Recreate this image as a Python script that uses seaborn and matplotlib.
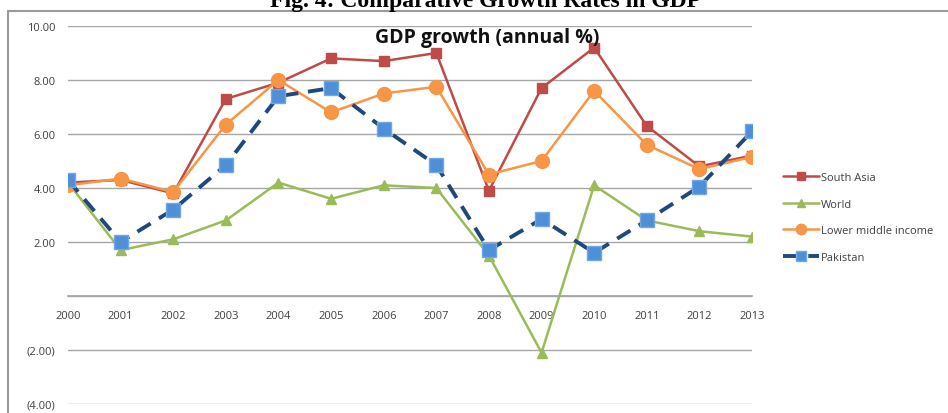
import pandas as pd
import seaborn as sns
import matplotlib.pyplot as plt
from matplotlib.patches import Rectangle
from matplotlib.ticker import FixedLocator, FuncFormatter

years = [2000, 2001, 2002, 2003, 2004, 2005, 2006, 2007, 2008, 2009, 2010, 2011, 2012, 2013]
south_asia = [4.2, 4.3, 3.8, 7.3, 7.9, 8.8, 8.7, 9.0, 3.9, 7.7, 9.2, 6.3, 4.8, 5.2]
world = [4.2, 1.7, 2.1, 2.8, 4.2, 3.6, 4.1, 4.0, 1.5, -2.1, 4.1, 2.8, 2.4, 2.2]
lower_middle = [4.1, 4.35, 3.85, 6.35, 8.0, 6.8, 7.5, 7.75, 4.5, 5.0, 7.6, 5.6, 4.7, 5.15]
pakistan = [4.3, 2.0, 3.2, 4.85, 7.4, 7.7, 6.2, 4.85, 1.7, 2.85, 1.6, 2.8, 4.05, 6.1]
series_names = ['South Asia', 'World', 'Lower middle income', 'Pakistan']

df = pd.DataFrame({'Year': years, 'South Asia': south_asia, 'World': world,
                   'Lower middle income': lower_middle, 'Pakistan': pakistan})
long_df = df.melt(id_vars='Year', var_name='Series', value_name='Growth')

sns.set_theme(style='white')
plt.rcParams['font.family'] = ['Open Sans', 'DejaVu Sans']

fig = plt.figure(figsize=(9.48, 4.14), dpi=100)
ax = fig.add_axes([68 / 948, 1 - 405 / 414, 684 / 948, 378 / 414])

styles = {
    'South Asia': dict(color='#be4b48', marker='s', markersize=7, lw=1.8, ls='-',
                       mfc='#be4b48', mec='#be4b48'),
    'World': dict(color='#9bbb59', marker='^', markersize=7, lw=1.8, ls='-',
                  mfc='#9bbb59', mec='#9bbb59'),
    'Lower middle income': dict(color='#f79646', marker='o', markersize=10, lw=1.8, ls='-',
                                mfc='#f79646', mec='#f79646'),
    'Pakistan': dict(color='#1f497d', marker='s', markersize=10, lw=2.8, ls=(0, (4, 2.5)),
                     mfc='#4f8fd8', mec='#6fa8e6'),
}

for name in series_names:
    st = styles[name]
    sns.lineplot(data=long_df[long_df['Series'] == name], x='Year', y='Growth', ax=ax,
                 color=st['color'], marker=st['marker'], markersize=st['markersize'],
                 linewidth=st['lw'], linestyle=st['ls'], markerfacecolor=st['mfc'],
                 markeredgecolor=st['mec'], markeredgewidth=1, label=name)

ax.set_xlim(2000, 2013)
ax.set_ylim(-4, 10)
ax.set_xlabel('')
ax.set_ylabel('')

# y axis: Excel style number format, zero left blank
ax.yaxis.set_major_locator(FixedLocator([-4, -2, 0, 2, 4, 6, 8, 10]))
ax.yaxis.set_major_formatter(FuncFormatter(
    lambda v, p: '' if v == 0 else (f'({abs(v):.2f})' if v < 0 else f'{v:.2f}')))
ax.xaxis.set_major_locator(FixedLocator(years))
ax.xaxis.set_major_formatter(FuncFormatter(lambda v, p: f'{int(v)}'))

ax.grid(axis='y', color='#a6a6a6', linewidth=1)
ax.grid(axis='x', visible=False)
for s in ['top', 'right', 'left']:
    ax.spines[s].set_visible(False)
ax.spines['bottom'].set_position(('data', 0))
ax.spines['bottom'].set_color('#a6a6a6')
ax.tick_params(axis='y', length=0, pad=9, labelsize=8, labelcolor='#404040')
ax.tick_params(axis='x', length=4, width=0.8, color='#d0d0d0', direction='out',
               pad=6, labelsize=8, labelcolor='#404040')

ax.legend(loc='upper left', bbox_to_anchor=(783 / 948, 1 - 173 / 414),
          bbox_transform=fig.transFigure, frameon=False, fontsize=8,
          handlelength=3.2, labelspacing=1.4, borderpad=0, borderaxespad=0,
          handletextpad=0.2, labelcolor='#404040', markerscale=0.75)

fig.text(487 / 948, 1 - 38 / 414, 'GDP growth (annual %)', ha='center', va='center',
         fontsize=14, fontweight='bold', color='#111111')

fig.text(485 / 948, 1 - 7 / 414, 'Fig. 4: Comparative Growth Rates in GDP',
         ha='center', va='baseline', fontsize=17, fontweight='bold',
         family=['Liberation Serif', 'DejaVu Serif'], color='black')

fig.patches.append(Rectangle((8 / 948, -0.1), 1.1, 1 - 12 / 414 + 0.1,
                             transform=fig.transFigure, fill=False,
                             edgecolor='#9a9a9a', linewidth=1.5, clip_on=False))

fig.savefig('out.png', dpi=100)
